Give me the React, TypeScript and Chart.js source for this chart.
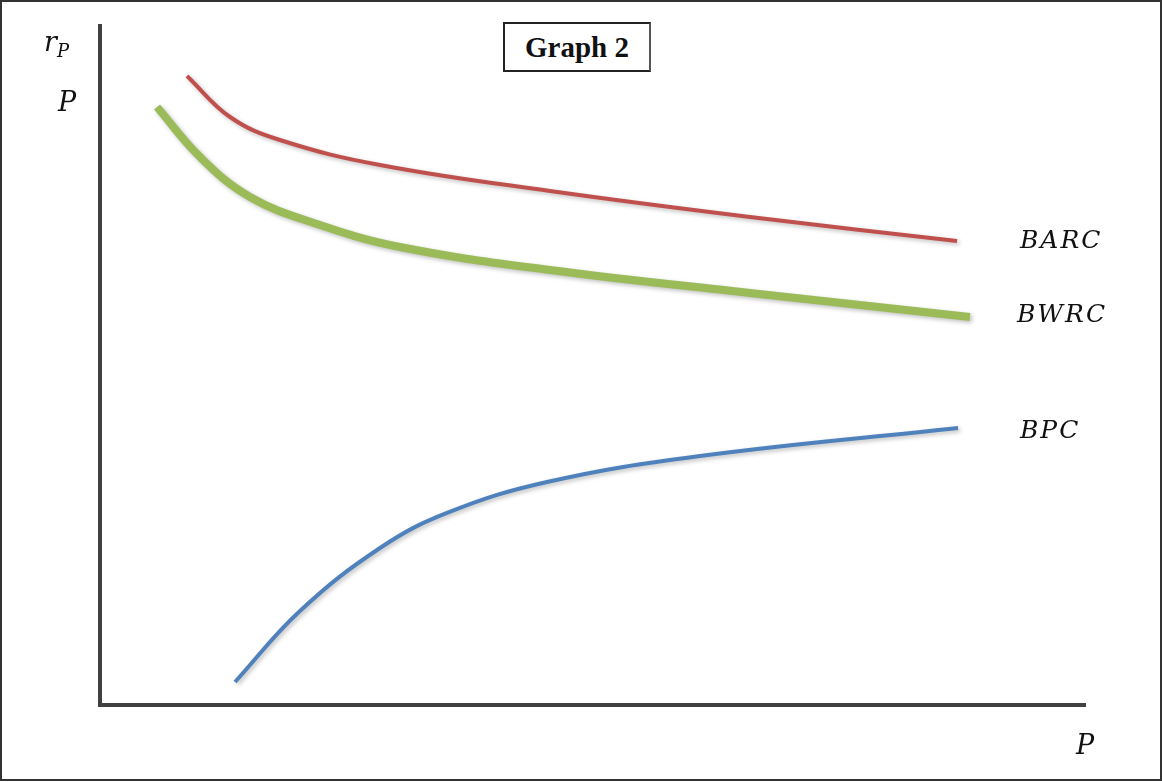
import React, { useEffect, useRef } from "react";
import { Chart, registerables } from "chart.js";

Chart.register(...registerables);

const barcX = [8.83, 13.2, 18.27, 28.43, 45.69, 65.99, 87.01];
const barcY = [92.64, 86.6, 83.21, 79.53, 75.7, 71.87, 68.34];

const bwrcX = [5.79, 10.15, 15.23, 22.03, 30.46, 45.69, 65.99, 88.32];
const bwrcY = [88.07, 80.71, 74.82, 70.84, 67.45, 64.06, 60.68, 57.14];

const bpcX = [13.71, 20.3, 28.43, 35.23, 45.38, 60.91, 87.11];
const bpcY = [3.39, 13.84, 23.12, 28.28, 32.84, 36.67, 40.8];

const seriesLabels = ["BARC", "BWRC", "BPC"];
const seriesColors = ["#C0504D", "#9BBB59", "#4F81BD"];
const seriesWidths = [4, 8, 4];

const toPoints = (xs: number[], ys: number[]) => xs.map((x, i) => ({ x, y: ys[i] }));

const mathFont = "'DejaVu Serif', 'Liberation Serif', serif";

export default function App() {
  const canvasRef = useRef<HTMLCanvasElement | null>(null);

  useEffect(() => {
    const canvas = canvasRef.current;
    if (!canvas) return;
    const shadowPlugin = {
      id: "shadow",
      beforeDatasetsDraw(chart: any) {
        const ctx = chart.ctx;
        ctx.save();
        ctx.shadowColor = "rgba(0,0,0,0.25)";
        ctx.shadowBlur = 4;
        ctx.shadowOffsetX = 2;
        ctx.shadowOffsetY = 2;
      },
      afterDatasetsDraw(chart: any) {
        chart.ctx.restore();
      },
    };
    const chart = new Chart(canvas, {
      type: "line",
      data: {
        datasets: [
          { label: seriesLabels[0], data: toPoints(barcX, barcY) },
          { label: seriesLabels[1], data: toPoints(bwrcX, bwrcY) },
          { label: seriesLabels[2], data: toPoints(bpcX, bpcY) },
        ].map((d, i) => ({
          ...d,
          borderColor: seriesColors[i],
          backgroundColor: seriesColors[i],
          borderWidth: seriesWidths[i],
          pointRadius: 0,
          fill: false,
          tension: 0.4,
          borderCapStyle: "butt" as const,
        })),
      },
      options: {
        animation: false,
        responsive: false,
        devicePixelRatio: 1,
        layout: { padding: { left: 100, top: 26, right: 77, bottom: 77 } },
        plugins: { legend: { display: false }, tooltip: { enabled: false }, title: { display: false } },
        scales: {
          x: {
            type: "linear",
            min: 0,
            max: 100,
            ticks: { display: false },
            grid: { display: false, drawTicks: false },
            border: { display: true, color: "#404040", width: 4 },
          },
          y: {
            type: "linear",
            min: 0,
            max: 100,
            ticks: { display: false },
            grid: { display: false, drawTicks: false },
            border: { display: true, color: "#404040", width: 4 },
          },
        },
      },
      plugins: [shadowPlugin],
    });
    return () => chart.destroy();
  }, []);

  const label = (text: string, left: number, top: number, extra: React.CSSProperties = {}) => (
    <div
      style={{
        position: "absolute",
        left,
        top,
        fontFamily: mathFont,
        fontStyle: "italic",
        fontSize: 24,
        color: "#111",
        letterSpacing: 2,
        lineHeight: 1,
        whiteSpace: "nowrap",
        ...extra,
      }}
    >
      {text}
    </div>
  );

  return (
    <div
      style={{
        position: "fixed",
        left: 0,
        top: 0,
        width: 1162,
        height: 782,
        background: "#fff",
        overflow: "hidden",
      }}
    >
      <canvas
        ref={canvasRef}
        width={1162}
        height={782}
        style={{ position: "absolute", left: 0, top: 0, width: 1162, height: 782 }}
      />
      <div
        style={{
          position: "absolute",
          left: 0,
          top: 0,
          width: 1162,
          height: 781,
          boxSizing: "border-box",
          border: "2px solid #333",
          pointerEvents: "none",
        }}
      />
      <div
        style={{
          position: "absolute",
          left: 503,
          top: 22,
          width: 148,
          height: 50,
          boxSizing: "border-box",
          border: "2px solid #222",
          borderRightColor: "#555",
          display: "flex",
          alignItems: "center",
          justifyContent: "center",
          fontFamily: "'Liberation Serif', 'DejaVu Serif', serif",
          fontWeight: "bold",
          fontSize: 29,
          color: "#111",
          background: "#fff",
        }}
      >
        Graph 2
      </div>
      <div
        style={{
          position: "absolute",
          left: 44,
          top: 28,
          fontFamily: mathFont,
          fontStyle: "italic",
          fontSize: 27,
          color: "#111",
          lineHeight: 1,
        }}
      >
        r<sub style={{ fontSize: 18, verticalAlign: "-6px" }}>P</sub>
      </div>
      {label("P", 58, 88, { fontSize: 27 })}
      {label(seriesLabels[0], 1020, 227, { fontSize: 25 })}
      {label(seriesLabels[1], 1017, 301, { fontSize: 25 })}
      {label(seriesLabels[2], 1020, 417, { fontSize: 25 })}
      {label("P", 1076, 731, { fontSize: 27 })}
    </div>
  );
}
